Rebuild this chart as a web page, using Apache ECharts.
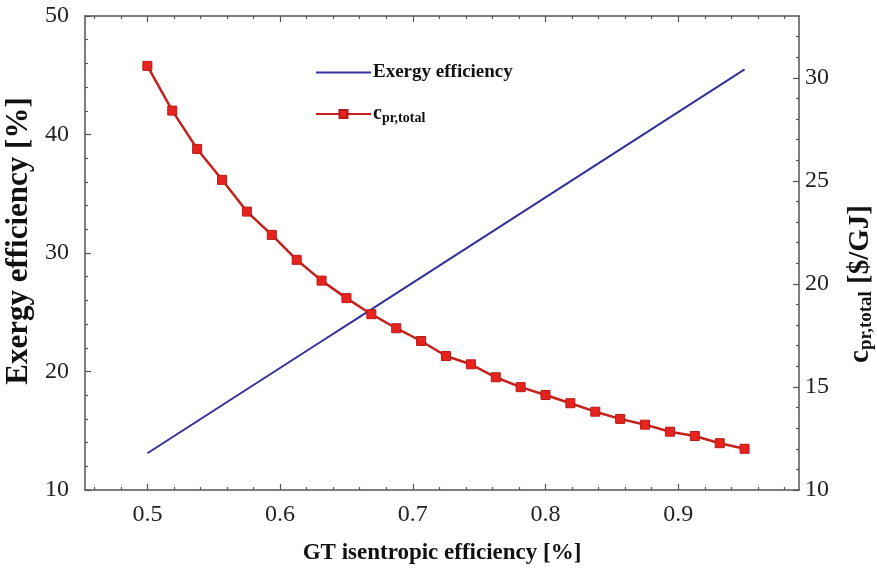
<!DOCTYPE html>
<html>
<head>
<meta charset="utf-8">
<script src="https://cdn.jsdelivr.net/npm/echarts@6/dist/echarts.min.js"></script>
<style>
html,body{margin:0;padding:0;background:#fff;}
#chart{width:877px;height:577px;}
</style>
</head>
<body>
<div id="chart"></div>
<script>
var xValues = [0.5, 0.51875, 0.5375, 0.55625, 0.575, 0.59375, 0.6125, 0.63125, 0.65, 0.66875,
  0.6875, 0.70625, 0.725, 0.74375, 0.7625, 0.78125, 0.8, 0.81875, 0.8375, 0.85625,
  0.875, 0.89375, 0.9125, 0.93125, 0.95];
var exergyEff = [13.1, 14.45, 15.8, 17.15, 18.5, 19.85, 21.2, 22.55, 23.9, 25.25,
  26.6, 27.95, 29.3, 30.65, 32.0, 33.35, 34.7, 36.05, 37.4, 38.75,
  40.1, 41.45, 42.8, 44.15, 45.5];
var cprTotal = [30.58, 28.41, 26.55, 25.05, 23.51, 22.38, 21.17, 20.16, 19.31, 18.53,
  17.85, 17.23, 16.50, 16.10, 15.47, 14.99, 14.61, 14.21, 13.80, 13.45,
  13.17, 12.83, 12.62, 12.27, 12.00];
var xMajorTicks = [0.5, 0.6, 0.7, 0.8, 0.9];
var xMinorTicks = [0.46, 0.48, 0.52, 0.54, 0.56, 0.58, 0.62, 0.64, 0.66, 0.68,
  0.72, 0.74, 0.76, 0.78, 0.82, 0.84, 0.86, 0.88, 0.92, 0.94, 0.96, 0.98];
var rightMajorTicks = [10, 15, 20, 25, 30];
var rightMinorTicks = [11, 12, 13, 14, 16, 17, 18, 19, 21, 22, 23, 24, 26, 27, 28, 29, 31, 32];

var FONT = '"Liberation Serif", "DejaVu Serif", serif';
var AX = '#555';
var names = ['Exergy efficiency', 'cpr,total'];

function pairs(ys) { return xValues.map(function (x, i) { return [x, ys[i]]; }); }

var chart = echarts.init(document.getElementById('chart'));
var xBase = {type: 'value', min: 0.453, max: 0.991, splitLine: {show: false}};
chart.setOption({
  animation: false,
  backgroundColor: '#fff',
  grid: {left: 85, right: 78, top: 16, bottom: 87, outerBoundsMode: 'none', containLabel: false},
  legend: {
    orient: 'vertical', left: 310, top: 58, itemGap: 22,
    itemWidth: 55, itemHeight: 10,
    data: [{name: names[0], itemStyle: {opacity: 0}}, {name: names[1]}],
    formatter: function (n) { return n === 'cpr,total' ? '{a|c}{s|pr,total}' : '{e|' + n + '}'; },
    textStyle: {
      fontFamily: FONT, color: '#111', padding: [0, 0, 0, -3],
      rich: {
        e: {fontFamily: FONT, fontWeight: 'bold', fontSize: 19, color: '#111'},
        a: {fontFamily: FONT, fontWeight: 'bold', fontSize: 20, color: '#111'},
        s: {fontFamily: FONT, fontWeight: 'bold', fontSize: 14, color: '#111', padding: [9, 0, 0, 0]}
      }
    }
  },
  xAxis: [
    Object.assign({}, xBase, {
      position: 'bottom',
      name: 'GT isentropic efficiency [%]', nameLocation: 'middle', nameGap: 52,
      nameTextStyle: {fontFamily: FONT, fontWeight: 'bold', fontSize: 23, color: '#111'},
      axisLine: {show: true, onZero: false, lineStyle: {color: AX, width: 1.5}},
      axisTick: {show: true, inside: true, length: 6, customValues: xMajorTicks, lineStyle: {color: AX, width: 1.2}},
      axisLabel: {customValues: xMajorTicks, fontFamily: FONT, fontSize: 24, color: '#222', margin: 13,
        formatter: function (v) { return v.toFixed(1); }}
    }),
    Object.assign({}, xBase, {
      position: 'bottom',
      axisLine: {show: false, onZero: false},
      axisTick: {show: true, inside: true, length: 3, customValues: xMinorTicks, lineStyle: {color: AX, width: 1.2}},
      axisLabel: {show: false}
    }),
    Object.assign({}, xBase, {
      position: 'top',
      axisLine: {show: true, onZero: false, lineStyle: {color: AX, width: 1.5}},
      axisTick: {show: true, inside: true, length: 6, customValues: xMajorTicks, lineStyle: {color: AX, width: 1.2}},
      axisLabel: {show: false}
    }),
    Object.assign({}, xBase, {
      position: 'top',
      axisLine: {show: false, onZero: false},
      axisTick: {show: true, inside: true, length: 3, customValues: xMinorTicks, lineStyle: {color: AX, width: 1.2}},
      axisLabel: {show: false}
    })
  ],
  yAxis: [
    {
      type: 'value', position: 'left', min: 10, max: 50, interval: 10,
      name: 'Exergy efficiency [%]', nameLocation: 'middle', nameGap: 50, nameRotate: 90,
      nameTextStyle: {fontFamily: FONT, fontWeight: 'bold', fontSize: 31, color: '#111', padding: [0, 0, 0, 24]},
      splitLine: {show: false},
      axisLine: {show: true, onZero: false, lineStyle: {color: AX, width: 1.5}},
      axisTick: {show: true, inside: true, length: 6, lineStyle: {color: AX, width: 1.2}},
      minorTick: {show: true, splitNumber: 5, length: 3, lineStyle: {color: AX, width: 1.2}},
      axisLabel: {fontFamily: FONT, fontSize: 24, color: '#222', margin: 16}
    },
    {
      type: 'value', position: 'right', min: 10, max: 33,
      name: '{a|c}{s|pr,total}{a| [$/GJ]}', nameLocation: 'middle', nameGap: 46, nameRotate: 90,
      nameTextStyle: {
        fontFamily: FONT, fontWeight: 'bold', fontSize: 29, color: '#111', padding: [0, 62, 0, 0],
        rich: {
          a: {fontFamily: FONT, fontWeight: 'bold', fontSize: 29, color: '#111'},
          s: {fontFamily: FONT, fontWeight: 'bold', fontSize: 19, color: '#111', padding: [12, 0, 0, 0]}
        }
      },
      splitLine: {show: false},
      axisLine: {show: true, onZero: false, lineStyle: {color: AX, width: 1.5}},
      axisTick: {show: true, inside: true, length: 6, customValues: rightMajorTicks, lineStyle: {color: AX, width: 1.2}},
      axisLabel: {customValues: rightMajorTicks, fontFamily: FONT, fontSize: 24, color: '#222', margin: 6}
    },
    {
      type: 'value', position: 'right', min: 10, max: 33,
      splitLine: {show: false},
      axisLine: {show: false, onZero: false},
      axisTick: {show: true, inside: true, length: 3, customValues: rightMinorTicks, lineStyle: {color: AX, width: 1.2}},
      axisLabel: {show: false}
    }
  ],
  series: [
    {
      name: names[0], type: 'line', xAxisIndex: 0, yAxisIndex: 0,
      data: pairs(exergyEff), symbol: 'none', showSymbol: false,
      lineStyle: {color: '#33309c', width: 2}, itemStyle: {color: '#33309c'}
    },
    {
      name: names[1], type: 'line', xAxisIndex: 0, yAxisIndex: 1,
      data: pairs(cprTotal), symbol: 'rect', symbolSize: 9,
      lineStyle: {color: '#c4211c', width: 2.5},
      itemStyle: {color: '#e8231d', borderColor: '#b51b16', borderWidth: 1}
    }
  ]
});
</script>
</body>
</html>
